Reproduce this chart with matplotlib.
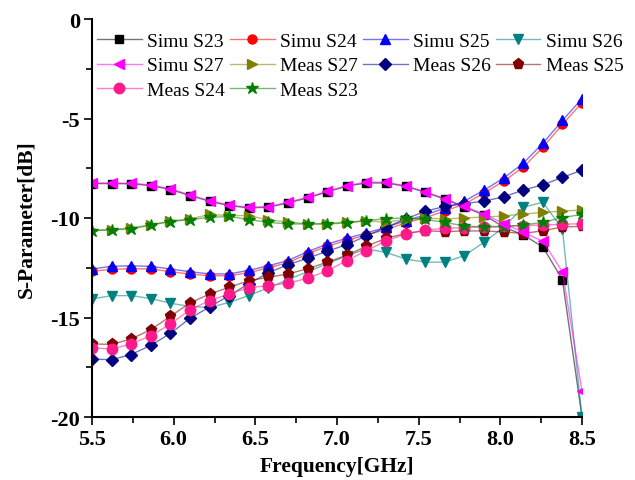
import matplotlib
matplotlib.use("Agg")
import matplotlib.pyplot as plt
from matplotlib.colors import to_rgba
from matplotlib.ticker import MultipleLocator

plt.rcParams['font.family'] = ['Liberation Serif', 'DejaVu Serif']

freq = [5.5, 5.62, 5.74, 5.86, 5.98, 6.1, 6.22, 6.34, 6.46, 6.58, 6.7, 6.82, 6.94,
        7.06, 7.18, 7.3, 7.42, 7.54, 7.66, 7.78, 7.9, 8.02, 8.14, 8.26, 8.38, 8.5]

simu_s23 = [-8.27, -8.27, -8.28, -8.37, -8.57, -8.87, -9.16, -9.38, -9.49, -9.46, -9.24, -8.99, -8.69,
            -8.40, -8.24, -8.24, -8.40, -8.71, -9.05, -9.45, -9.85, -10.45, -10.85, -11.45, -13.1, -20.0]
simu_s24 = [-12.68, -12.58, -12.55, -12.56, -12.7, -12.82, -12.9, -12.9, -12.75, -12.5, -12.25, -11.8, -11.42,
            -11.12, -10.85, -10.58, -10.25, -9.98, -9.65, -9.3, -8.75, -8.15, -7.45, -6.45, -5.3, -4.2]
simu_s25 = [-12.56, -12.43, -12.4, -12.43, -12.56, -12.7, -12.81, -12.81, -12.63, -12.4, -12.14, -11.69, -11.31,
            -11.02, -10.75, -10.47, -10.13, -9.85, -9.5, -9.15, -8.6, -8.0, -7.25, -6.25, -5.1, -4.0]
simu_s26 = [-14.07, -13.9, -13.9, -14.05, -14.28, -14.45, -14.5, -14.24, -13.9, -13.5, -13.1, -12.7, -12.3,
            -11.9, -11.55, -11.73, -12.06, -12.22, -12.22, -11.89, -11.22, -10.47, -9.46, -9.21, -10.55, -20.0]
simu_s27 = [-8.24, -8.24, -8.25, -8.34, -8.54, -8.84, -9.13, -9.35, -9.46, -9.43, -9.21, -8.96, -8.66,
            -8.37, -8.2, -8.2, -8.39, -8.68, -9.03, -9.42, -9.8, -10.28, -10.72, -11.17, -12.7, -18.7]
meas_s27 = [-10.62, -10.58, -10.5, -10.35, -10.15, -10.05, -9.82, -9.88, -9.88, -10.1, -10.2, -10.3, -10.28,
            -10.2, -10.15, -10.2, -10.08, -10.0, -10.05, -10.0, -9.95, -9.9, -9.8, -9.72, -9.65, -9.6]
meas_s26 = [-17.09, -17.12, -16.86, -16.4, -15.8, -15.04, -14.47, -13.9, -13.3, -12.75, -12.35, -12.02, -11.67,
            -11.34, -10.9, -10.47, -10.05, -9.66, -9.42, -9.28, -9.15, -8.94, -8.6, -8.33, -7.96, -7.6]
meas_s25 = [-16.33, -16.35, -16.08, -15.61, -14.94, -14.27, -13.82, -13.48, -13.15, -12.98, -12.81, -12.55, -12.22,
            -11.87, -11.42, -11.02, -10.78, -10.64, -10.68, -10.65, -10.65, -10.7, -10.78, -10.64, -10.45, -10.42]
meas_s24 = [-16.53, -16.58, -16.33, -15.91, -15.33, -14.61, -14.15, -13.82, -13.5, -13.4, -13.27, -13.03, -12.65,
            -12.14, -11.64, -11.15, -10.8, -10.6, -10.52, -10.48, -10.45, -10.4, -10.38, -10.35, -10.32, -10.28]
meas_s23 = [-10.64, -10.6, -10.55, -10.35, -10.18, -10.08, -9.97, -9.92, -10.08, -10.22, -10.3, -10.3, -10.3,
            -10.25, -10.13, -10.03, -10.0, -10.07, -10.22, -10.4, -10.45, -10.45, -10.35, -10.22, -9.98, -9.82]

# (label, data, colour, marker, size) in legend order (column-wise for ncol=4)
series = [
    ("Simu S23", simu_s23, "black", "s", 5.5),
    ("Simu S27", simu_s27, "#FF00FF", "<", 7.5),
    ("Meas S24", meas_s24, "#FF1A8C", "o", 7.5),
    ("Simu S24", simu_s24, "#FF0000", "o", 6.5),
    ("Meas S27", meas_s27, "#808000", ">", 7.5),
    ("Meas S23", meas_s23, "#008000", "*", 9),
    ("Simu S25", simu_s25, "#0000FF", "^", 7.5),
    ("Meas S26", meas_s26, "#000080", "D", 6),
    ("Simu S26", simu_s26, "#008080", "v", 7.5),
    ("Meas S25", meas_s25, "#800000", "p", 8),
]

fig = plt.figure(figsize=(6.35, 4.81), dpi=100)
ax = fig.add_axes([92 / 635, 63 / 481, 490 / 635, 398 / 481])

# draw in the original order so overlaps look similar
draw_order = ["Simu S23", "Simu S24", "Simu S25", "Simu S26", "Meas S26",
              "Meas S25", "Meas S24", "Meas S27", "Meas S23", "Simu S27"]
handles = {}
for name in draw_order:
    label, y, c, m, ms = next(s for s in series if s[0] == name)
    line, = ax.plot(freq, y, color=to_rgba(c, 0.55), lw=1.0, marker=m, ms=ms,
                    mfc=c, mec=c, label=label)
    handles[label] = line

ax.set_xlim(5.5, 8.5)
ax.set_ylim(-20, 0)
ax.xaxis.set_major_locator(MultipleLocator(0.5))
ax.xaxis.set_minor_locator(MultipleLocator(0.25))
ax.yaxis.set_major_locator(MultipleLocator(5))
ax.yaxis.set_minor_locator(MultipleLocator(2.5))
ax.xaxis.set_major_formatter(plt.FuncFormatter(lambda v, p: f"{v:.1f}"))
ax.yaxis.set_major_formatter(plt.FuncFormatter(lambda v, p: f"{v:.0f}"))

for s in ["top", "right"]:
    ax.spines[s].set_visible(False)
for s in ["left", "bottom"]:
    ax.spines[s].set_linewidth(1.5)

ax.tick_params(which="major", direction="out", length=6, width=1.2, labelsize=16, pad=2.5)
ax.tick_params(which="minor", direction="out", length=4, width=1.2)
for lbl in ax.get_xticklabels() + ax.get_yticklabels():
    lbl.set_fontweight("bold")

ax.set_xlabel("Frequency[GHz]", fontsize=15.5, fontweight="bold")
ax.set_ylabel("S-Parameter[dB]", fontsize=15.5, fontweight="bold")
ax.xaxis.set_label_coords(0.5, -0.097)
ax.yaxis.set_label_coords(-0.114, 0.5)

labels = [s[0] for s in series]
fig.legend([handles[l] for l in labels], labels, ncol=4, loc="upper left",
           bbox_to_anchor=(97 / 635, 1 - 33 / 481), frameon=False,
           fontsize=14, handlelength=2.3, handletextpad=0.27, columnspacing=0.26,
           labelspacing=0.37, borderpad=0, borderaxespad=0)

fig.savefig("out.png", dpi=100)
